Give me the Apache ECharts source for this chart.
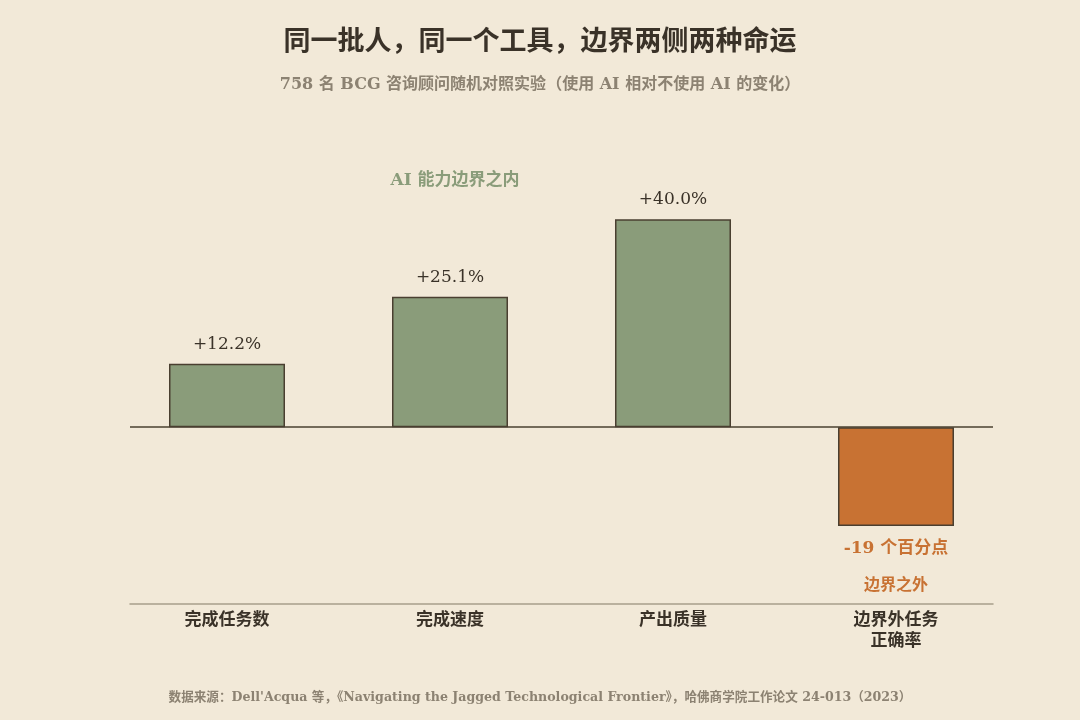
<!DOCTYPE html>
<html>
<head>
    <meta charset="utf-8">
    <title>ECharts</title>
    <script src="https://cdn.jsdelivr.net/npm/echarts@6.0.0/dist/echarts.min.js"></script>
    <style>
        html, body { margin: 0; padding: 0; background: #f2e9d8; }
        #main { width: 1080px; height: 720px; }
    </style>
</head>
<body>
    <div id="main"></div>
    <script type="text/javascript">
    // 数据
    var categories = ['完成任务数', '完成速度', '产出质量', '边界外任务\n正确率'];
    var values = [12.2, 25.1, 40.0, -19];
    var valueLabels = ['+12.2%', '+25.1%', '+40.0%', '-19 个百分点'];
    var insideNote = 'AI 能力边界之内';
    var outsideNote = '边界之外';

    var serif = '"DejaVu Serif", "Liberation Serif", "Noto Sans CJK SC", serif';
    var green = '#8a9c7a';
    var orange = '#c87233';
    var ink = '#3a3228';
    var grey = '#8c8272';

    var myChart = echarts.init(document.getElementById('main'));

    var barData = values.map(function (v, i) {
        var item = {
            value: [i, v],
            itemStyle: { color: v < 0 ? orange : green }
        };
        if (v < 0) {
            item.label = {
                position: 'bottom',
                distance: 12,
                formatter: '{a|' + valueLabels[i] + '}\n{b|' + outsideNote + '}',
                rich: {
                    a: { fontFamily: serif, fontSize: 17, fontWeight: 'bold', color: orange, lineHeight: 22 },
                    b: { fontFamily: serif, fontSize: 16, fontWeight: 'bold', color: orange, lineHeight: 52 }
                }
            };
        }
        return item;
    });

    var option = {
        backgroundColor: '#f2e9d8',
        title: [
            {
                text: '同一批人，同一个工具，边界两侧两种命运',
                left: 'center',
                top: 24,
                textStyle: { fontFamily: serif, fontSize: 27, fontWeight: 'bold', color: ink }
            },
            {
                text: '758 名 BCG 咨询顾问随机对照实验（使用 AI 相对不使用 AI 的变化）',
                left: 'center',
                top: 72,
                textStyle: { fontFamily: serif, fontSize: 16, fontWeight: 'bold', color: grey }
            },
            {
                text: '数据来源：Dell\'Acqua 等，《Navigating the Jagged Technological Frontier》，哈佛商学院工作论文 24-013（2023）',
                left: 'center',
                top: 686,
                textStyle: { fontFamily: serif, fontSize: 12.6, fontWeight: 'bold', color: grey }
            },
            {
                text: insideNote,
                left: 450,
                top: 167,
                textAlign: 'center',
                textStyle: { fontFamily: serif, fontSize: 17, fontWeight: 'bold', color: green }
            }
        ],
        grid: { left: 130, right: 87, top: 136, bottom: 116 },
        xAxis: {
            type: 'value',
            min: -0.435,
            max: 3.435,
            splitLine: { show: false },
            axisLine: { show: true, onZero: false, lineStyle: { color: '#a89f8a', width: 1.5 } },
            axisTick: { show: false },
            axisLabel: {
                customValues: [0, 1, 2, 3],
                formatter: function (v) { return categories[Math.round(v)]; },
                fontFamily: serif,
                fontSize: 17,
                fontWeight: 'bold',
                color: ink,
                lineHeight: 21,
                margin: 6,
                verticalAlign: 'top'
            }
        },
        yAxis: {
            type: 'value',
            min: -34,
            max: 56,
            show: false,
            splitLine: { show: false }
        },
        series: [{
            type: 'bar',
            barWidth: 116,
            data: barData,
            itemStyle: { borderColor: '#4a3f30', borderWidth: 1.5 },
            label: {
                show: true,
                position: 'top',
                distance: 11,
                fontFamily: serif,
                fontSize: 17,
                color: ink,
                formatter: function (p) { return valueLabels[p.dataIndex]; }
            },
            markLine: {
                silent: true,
                symbol: 'none',
                label: { show: false },
                lineStyle: { color: '#4a4030', width: 1.5, type: 'solid' },
                data: [{ yAxis: 0 }]
            }
        }]
    };

    myChart.setOption(option);
    </script>
</body>
</html>
